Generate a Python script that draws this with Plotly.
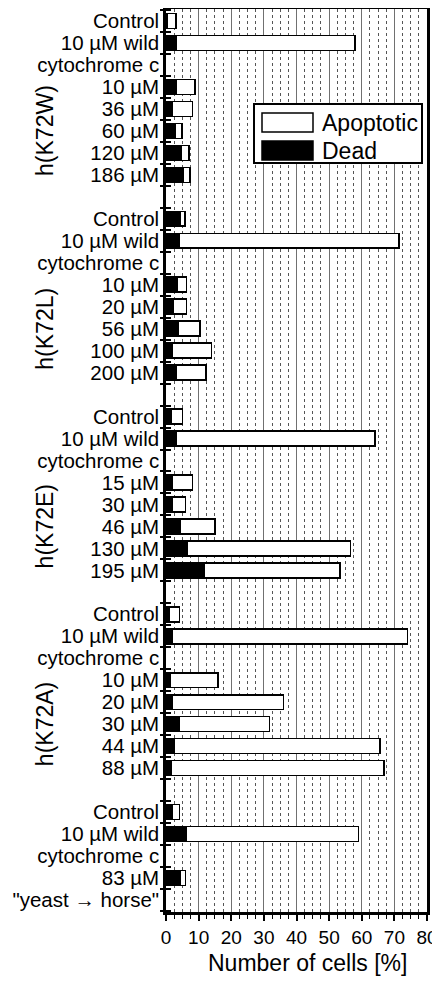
import plotly.graph_objects as go

# ---------------- data ----------------
group_names = ["h(K72W)", "h(K72L)", "h(K72E)", "h(K72A)"]

control_dead = [0.5, 4.5, 1.7, 1.0, 2.0]
control_apop = [2.6, 1.4, 3.4, 3.1, 2.1]
wild_dead = [3.1, 4.1, 3.1, 2.0, 6.1]
wild_apop = [54.8, 67.4, 60.9, 72.0, 52.9]

k72w_doses = ["10 µM", "36 µM", "60 µM", "120 µM", "186 µM"]
k72w_dead = [3.0, 2.0, 2.8, 4.8, 5.3]
k72w_apop = [5.9, 6.1, 2.1, 2.2, 2.1]

k72l_doses = ["10 µM", "20 µM", "56 µM", "100 µM", "200 µM"]
k72l_dead = [3.3, 2.2, 3.6, 1.9, 3.1]
k72l_apop = [3.0, 4.1, 6.8, 12.1, 9.2]

k72e_doses = ["15 µM", "30 µM", "46 µM", "130 µM", "195 µM"]
k72e_dead = [1.9, 2.0, 4.3, 6.5, 11.8]
k72e_apop = [6.2, 4.0, 10.7, 50.1, 41.5]

k72a_doses = ["10 µM", "20 µM", "30 µM", "44 µM", "88 µM"]
k72a_dead = [1.2, 2.0, 4.0, 2.5, 1.7]
k72a_apop = [14.8, 34.0, 27.7, 63.1, 65.1]

hybrid_doses = ["83 µM"]
hybrid_dead = [4.3]
hybrid_apop = [1.7]
hybrid_note = '"yeast → horse"'

control_label = "Control"
wild_label = "10 µM wild"
wild_label2 = "cytochrome c"

# ---------------- build rows ----------------
dose_groups = [
    (k72w_doses, k72w_dead, k72w_apop),
    (k72l_doses, k72l_dead, k72l_apop),
    (k72e_doses, k72e_dead, k72e_apop),
    (k72a_doses, k72a_dead, k72a_apop),
    (hybrid_doses, hybrid_dead, hybrid_apop),
]

bar_y, bar_dead, bar_apop = [], [], []
tick_vals, tick_text = [], []
group_centers = []
slot = 0
for gi, (doses, dd, aa) in enumerate(dose_groups):
    start = slot
    bar_y.append(slot); bar_dead.append(control_dead[gi]); bar_apop.append(control_apop[gi])
    tick_vals.append(slot); tick_text.append(control_label)
    slot += 1
    bar_y.append(slot); bar_dead.append(wild_dead[gi]); bar_apop.append(wild_apop[gi])
    tick_vals.append(slot); tick_text.append(wild_label)
    slot += 1
    tick_vals.append(slot); tick_text.append(wild_label2)
    slot += 1
    for name, d, a in zip(doses, dd, aa):
        bar_y.append(slot); bar_dead.append(d); bar_apop.append(a)
        tick_vals.append(slot); tick_text.append(name)
        slot += 1
    group_centers.append(start + 5)
    slot += 1  # blank separator
slot -= 1
tick_vals.append(slot); tick_text.append(hybrid_note)
n_slots = slot + 1

FONT = "Liberation Sans"
yr = [n_slots - 1 + 0.55, -0.55]

# page has an 8px body margin: figure occupies page x 8..440, y 8..984
OFF = 8
fig = go.Figure()
fig.add_trace(go.Bar(
    x=bar_dead, y=bar_y, orientation="h", name="Dead", width=0.68,
    marker=dict(color="black", line=dict(color="black", width=1.6)),
    showlegend=False,
))
fig.add_trace(go.Bar(
    x=bar_apop, y=bar_y, orientation="h", name="Apoptotic", width=0.68,
    marker=dict(color="white", line=dict(color="black", width=1.6)),
    showlegend=False,
))
fig.add_trace(go.Scatter(x=[None], y=[None], yaxis="y2", showlegend=False, hoverinfo="skip"))
fig.add_trace(go.Scatter(x=[None], y=[None], yaxis="y3", showlegend=False, hoverinfo="skip"))

fig.update_layout(
    width=440 - OFF, height=984 - OFF,
    margin=dict(l=166 - OFF, r=13, t=9 - OFF, b=72, autoexpand=False),
    paper_bgcolor="white", plot_bgcolor="white",
    barmode="stack",
    font=dict(family=FONT, color="black"),
    xaxis=dict(
        range=[0, 80], tick0=0, dtick=10, ticks="outside", ticklen=6, tickwidth=1.5,
        tickcolor="black", showline=True, linewidth=2.5, linecolor="black", mirror=True,
        showgrid=True, gridcolor="#707070", gridwidth=1, zeroline=False, automargin=False,
        tickfont=dict(size=19, family=FONT, color="black"),
        minor=dict(dtick=2.5, tick0=0, ticks="outside", ticklen=4, tickwidth=1.2,
                   tickcolor="black", showgrid=True, gridcolor="#555555",
                   griddash="dot", gridwidth=1),
    ),
    yaxis=dict(
        range=yr, tickmode="array", tickvals=tick_vals, ticktext=tick_text,
        ticks="", showgrid=False, zeroline=False, automargin=False,
        showline=True, linewidth=2.5, linecolor="black", mirror=True,
        tickfont=dict(size=20.5, family=FONT, color="black"), ticklabelstandoff=0,
    ),
    yaxis2=dict(
        range=yr, overlaying="y", side="left", tickmode="linear", tick0=0.5, dtick=1,
        ticks="outside", ticklen=5, tickwidth=1.5, tickcolor="black", automargin=False,
        showticklabels=False, showgrid=False, zeroline=False, showline=False,
    ),
    yaxis3=dict(
        range=yr, overlaying="y", side="left", tickmode="linear", tick0=0.5, dtick=1,
        ticks="inside", ticklen=5, tickwidth=1.5, tickcolor="black", automargin=False,
        showticklabels=False, showgrid=False, zeroline=False, showline=False,
    ),
)

for name, c in zip(group_names, group_centers):
    fig.add_annotation(
        text=name, xref="paper", yref="y", x=(45 - 166) / 261, y=c,
        textangle=-90, showarrow=False, xanchor="center", yanchor="middle",
        font=dict(size=23, family=FONT, color="black"),
    )

fig.add_annotation(
    text="Number of cells [%]", xref="paper", yref="paper",
    x=(307 - 166) / 261, y=1 - (963 - 9) / 903, showarrow=False,
    xanchor="center", yanchor="middle", font=dict(size=23, family=FONT, color="black"),
)

def px_x(p):
    return (p - 166) / 261

def px_y(p):
    return 1 - (p - 9) / 903

fig.add_shape(type="rect", xref="paper", yref="paper",
              x0=px_x(254), x1=px_x(422), y0=px_y(163), y1=px_y(104),
              line=dict(color="black", width=2), fillcolor="white", layer="above")
legend_items = [("Apoptotic", "white", 113, 132), ("Dead", "black", 141, 160)]
for label, col, top, bot in legend_items:
    fig.add_shape(type="rect", xref="paper", yref="paper",
                  x0=px_x(262), x1=px_x(313), y0=px_y(bot), y1=px_y(top),
                  line=dict(color="black", width=1.5), fillcolor=col, layer="above")
    fig.add_annotation(text=label, xref="paper", yref="paper",
                       x=px_x(320), y=px_y((top + bot) / 2), showarrow=False,
                       xanchor="left", yanchor="middle",
                       font=dict(size=23, family=FONT, color="black"))

fig.write_html("out.html")
